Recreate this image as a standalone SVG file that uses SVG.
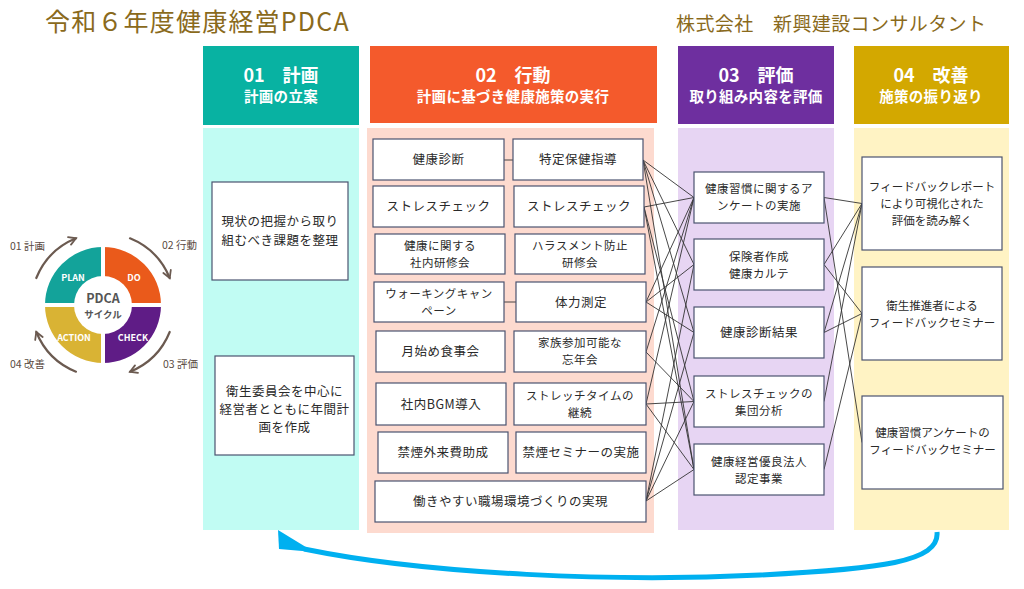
<svg xmlns="http://www.w3.org/2000/svg" width="1024" height="589" viewBox="0 0 1024 589">
<defs>
<style>
text{font-family:"Noto Sans CJK JP","Noto Sans",sans-serif;}
.box{fill:#fff;stroke:#4b5470;stroke-width:1.2;}
.t{font-size:12.5px;fill:#2a2a2a;text-anchor:middle;letter-spacing:0.5px;}
.t2{font-size:11.5px;fill:#2a2a2a;text-anchor:middle;letter-spacing:0.5px;}
.ti{font-size:11.5px;fill:#2a2a2a;text-anchor:middle;}
.h1{font-size:18px;font-weight:700;fill:#fff;text-anchor:middle;}
.h2{font-size:14.5px;font-weight:700;fill:#fff;text-anchor:middle;letter-spacing:0.3px;}
.ln{stroke:#333;stroke-width:0.9;fill:none;}
.arc{stroke:#6b5a50;stroke-width:2.2;fill:none;stroke-linecap:round;marker-end:url(#chev);}
.lab{font-size:10.5px;fill:#5a4a42;}
.q{font-size:9px;font-weight:700;fill:#fff;text-anchor:middle;}
</style>
<marker id="chev" viewBox="0 0 10 10" refX="8" refY="5" markerWidth="10" markerHeight="10" markerUnits="userSpaceOnUse" orient="auto">
<path d="M1,1 L8,5 L1,9" fill="none" stroke="#6b5a50" stroke-width="1.8" stroke-linecap="round"/>
</marker>
</defs>
<rect width="1024" height="589" fill="#fff"/>

<g id="title">
<text x="45" y="31" style="font-size:25px;fill:#8a6a1c;letter-spacing:1.2px;">令和６年度健康経営PDCA</text>
<text x="676" y="31" style="font-size:19px;fill:#8a6a1c;letter-spacing:0.4px;">株式会社　新興建設コンサルタント</text>
</g>

<g id="pdca-cycle">
<path d="M45 305 A58 58 0 0 1 103 247 L103 277 A28 28 0 0 0 75 305 Z" fill="#13A39A"/>
<path d="M103 247 A58 58 0 0 1 161 305 L131 305 A28 28 0 0 0 103 277 Z" fill="#EA5A1B"/>
<path d="M161 305 A58 58 0 0 1 103 363 L103 333 A28 28 0 0 0 131 305 Z" fill="#5F1C86"/>
<path d="M103 363 A58 58 0 0 1 45 305 L75 305 A28 28 0 0 0 103 333 Z" fill="#D9B334"/>
<line x1="40" y1="305" x2="166" y2="305" stroke="#fff" stroke-width="4"/>
<line x1="103" y1="242" x2="103" y2="368" stroke="#fff" stroke-width="4"/>
<circle cx="103" cy="305" r="29" fill="#fff"/>
<text class="q" x="73" y="281">PLAN</text>
<text class="q" x="134" y="281">DO</text>
<text class="q" x="74" y="341">ACTION</text>
<text class="q" x="133" y="341">CHECK</text>
<text x="103" y="303" style="font-size:12.5px;font-weight:700;fill:#555;text-anchor:middle;">PDCA</text>
<text x="103" y="318" style="font-size:9.5px;font-weight:700;fill:#555;text-anchor:middle;">サイクル</text>
<path class="arc" d="M36.3 278 A72 72 0 0 1 76 238.3"/>
<path class="arc" d="M130 238.3 A72 72 0 0 1 169.7 278"/>
<path class="arc" d="M169.7 332 A72 72 0 0 1 130 371.7"/>
<path class="arc" d="M76 371.7 A72 72 0 0 1 36.3 332"/>
<text class="lab" x="10" y="250">01 計画</text>
<text class="lab" x="162" y="249">02 行動</text>
<text class="lab" x="10" y="368">04 改善</text>
<text class="lab" x="163" y="368">03 評価</text>
</g>

<g id="col-plan">
<rect x="203" y="46" width="156" height="79" fill="#08B2A2"/>
<text class="h1" x="281" y="82">01　計画</text>
<text class="h2" x="281" y="102">計画の立案</text>
<rect x="203" y="128" width="156" height="402" fill="#C1FCF3"/>
</g>
<g id="col-action">
<rect x="370" y="46" width="287" height="77" fill="#F45A2C"/>
<text class="h1" x="513" y="82">02　行動</text>
<text class="h2" x="513" y="102">計画に基づき健康施策の実行</text>
<rect x="367" y="128" width="287" height="405" fill="#FDDACF"/>
</g>
<g id="col-check">
<rect x="678" y="46" width="156" height="78" fill="#6E2F9F"/>
<text class="h1" x="756" y="82">03　評価</text>
<text class="h2" x="756" y="102">取り組み内容を評価</text>
<rect x="678" y="128" width="156" height="402" fill="#E7D5F3"/>
</g>
<g id="col-act">
<rect x="854" y="46" width="155" height="78" fill="#D3A800"/>
<text class="h1" x="931" y="82">04　改善</text>
<text class="h2" x="931" y="102">施策の振り返り</text>
<rect x="854" y="128" width="155" height="402" fill="#FFF3C4"/>
</g>

<g id="connectors">
<line class="ln" x1="504" y1="160" x2="513" y2="160"/>
<line class="ln" x1="504" y1="302" x2="516" y2="302"/>
<polyline class="ln" points="694,197.5 643,160 694,264.5"/>
<line class="ln" x1="643" y1="160" x2="694" y2="332.5"/>
<line class="ln" x1="643" y1="160" x2="694" y2="469.5"/>
<line class="ln" x1="644" y1="207" x2="694" y2="197.5"/>
<line class="ln" x1="644" y1="207" x2="694" y2="401.5"/>
<line class="ln" x1="644" y1="207" x2="694" y2="469.5"/>
<line class="ln" x1="646" y1="302" x2="694" y2="197.5"/>
<line class="ln" x1="646" y1="302" x2="694" y2="264.5"/>
<line class="ln" x1="646" y1="302" x2="694" y2="332.5"/>
<line class="ln" x1="646" y1="352" x2="694" y2="197.5"/>
<line class="ln" x1="646" y1="352" x2="694" y2="401.5"/>
<line class="ln" x1="646" y1="404" x2="694" y2="197.5"/>
<line class="ln" x1="646" y1="404" x2="694" y2="401.5"/>
<line class="ln" x1="646" y1="404" x2="694" y2="469.5"/>
<line class="ln" x1="646" y1="501" x2="694" y2="264.5"/>
<line class="ln" x1="646" y1="501" x2="694" y2="332.5"/>
<line class="ln" x1="646" y1="501" x2="694" y2="401.5"/>
<line class="ln" x1="646" y1="501" x2="694" y2="469.5"/>
<line class="ln" x1="824" y1="197.5" x2="862" y2="203.5"/>
<line class="ln" x1="824" y1="197.5" x2="862" y2="442.5"/>
<line class="ln" x1="824" y1="264.5" x2="862" y2="203.5"/>
<line class="ln" x1="824" y1="264.5" x2="862" y2="313.5"/>
<line class="ln" x1="824" y1="332.5" x2="862" y2="203.5"/>
<line class="ln" x1="824" y1="332.5" x2="862" y2="313.5"/>
<line class="ln" x1="824" y1="401.5" x2="862" y2="203.5"/>
<line class="ln" x1="824" y1="469.5" x2="862" y2="313.5"/>
<path d="M937 532 C940 562 880 569 760 575 C620 582 430 575 304 549" fill="none" stroke="#00B0F0" stroke-width="5"/>
<polygon points="278,530 279,549 314,552" fill="#00B0F0"/>
</g>

<g id="plan-1"><rect class="box" x="212" y="182" width="136" height="98"/>
<text class="t" x="280" y="226">現状の把握から取り</text><text class="t" x="280" y="245">組むべき課題を整理</text></g>
<g id="plan-2"><rect class="box" x="215" y="356" width="139" height="99"/>
<text class="t" x="284.5" y="396">衛生委員会を中心に</text><text class="t" x="284.5" y="414">経営者とともに年間計</text><text class="t" x="284.5" y="432">画を作成</text></g>

<g id="do-1"><rect class="box" x="373" y="139" width="131" height="41"/><text class="t" x="438.5" y="164">健康診断</text></g>
<g id="do-2"><rect class="box" x="513" y="139" width="130" height="41"/><text class="t" x="578" y="164">特定保健指導</text></g>
<g id="do-3"><rect class="box" x="373" y="186" width="131" height="41"/><text class="t" x="438.5" y="211">ストレスチェック</text></g>
<g id="do-4"><rect class="box" x="514" y="186" width="130" height="41"/><text class="t" x="579" y="211">ストレスチェック</text></g>
<g id="do-5"><rect class="box" x="375" y="234" width="130" height="40"/><text class="t2" x="440" y="249.5">健康に関する</text><text class="t2" x="440" y="266.5">社内研修会</text></g>
<g id="do-6"><rect class="box" x="515" y="234" width="130" height="40"/><text class="t2" x="580" y="249.5">ハラスメント防止</text><text class="t2" x="580" y="266.5">研修会</text></g>
<g id="do-7"><rect class="box" x="374" y="282" width="130" height="40"/><text class="t2" x="439" y="297.5">ウォーキングキャン</text><text class="t2" x="439" y="314.5">ペーン</text></g>
<g id="do-8"><rect class="box" x="516" y="282" width="130" height="40"/><text class="t" x="581" y="306.5">体力測定</text></g>
<g id="do-9"><rect class="box" x="376" y="331" width="129" height="41"/><text class="t" x="440.5" y="356">月始め食事会</text></g>
<g id="do-10"><rect class="box" x="514" y="331" width="132" height="41"/><text class="t2" x="580" y="347">家族参加可能な</text><text class="t2" x="580" y="364">忘年会</text></g>
<g id="do-11"><rect class="box" x="376" y="383" width="130" height="42"/><text class="t" x="441" y="408.5">社内BGM導入</text></g>
<g id="do-12"><rect class="box" x="514" y="383" width="132" height="42"/><text class="t2" x="580" y="399.5">ストレッチタイムの</text><text class="t2" x="580" y="416.5">継続</text></g>
<g id="do-13"><rect class="box" x="378" y="432" width="130" height="41"/><text class="t" x="443" y="457">禁煙外来費助成</text></g>
<g id="do-14"><rect class="box" x="516" y="432" width="130" height="41"/><text class="t" x="581" y="457">禁煙セミナーの実施</text></g>
<g id="do-15"><rect class="box" x="375" y="481" width="271" height="41"/><text class="t" x="510.5" y="506">働きやすい職場環境づくりの実現</text></g>

<g id="check-1"><rect class="box" x="694" y="172" width="130" height="51"/><text class="t2" x="759" y="192.5">健康習慣に関するア</text><text class="t2" x="759" y="209.5">ンケートの実施</text></g>
<g id="check-2"><rect class="box" x="694" y="239" width="130" height="51"/><text class="t2" x="759" y="260.5">保険者作成</text><text class="t2" x="759" y="277.5">健康カルテ</text></g>
<g id="check-3"><rect class="box" x="694" y="307" width="130" height="51"/><text class="t" x="759" y="337">健康診断結果</text></g>
<g id="check-4"><rect class="box" x="694" y="376" width="130" height="51"/><text class="t2" x="759" y="397.5">ストレスチェックの</text><text class="t2" x="759" y="414.5">集団分析</text></g>
<g id="check-5"><rect class="box" x="694" y="444" width="130" height="51"/><text class="t2" x="759" y="465.5">健康経営優良法人</text><text class="t2" x="759" y="482.5">認定事業</text></g>

<g id="act-1"><rect class="box" x="862" y="157" width="140" height="93"/><text class="ti" x="932" y="191">フィードバックレポート</text><text class="ti" x="932" y="208">により可視化された</text><text class="ti" x="932" y="225">評価を読み解く</text></g>
<g id="act-2"><rect class="box" x="862" y="267" width="140" height="93"/><text class="ti" x="932" y="310">衛生推進者による</text><text class="ti" x="932" y="327">フィードバックセミナー</text></g>
<g id="act-3"><rect class="box" x="862" y="396" width="141" height="93"/><text class="ti" x="932.5" y="437">健康習慣アンケートの</text><text class="ti" x="932.5" y="454">フィードバックセミナー</text></g>
</svg>
